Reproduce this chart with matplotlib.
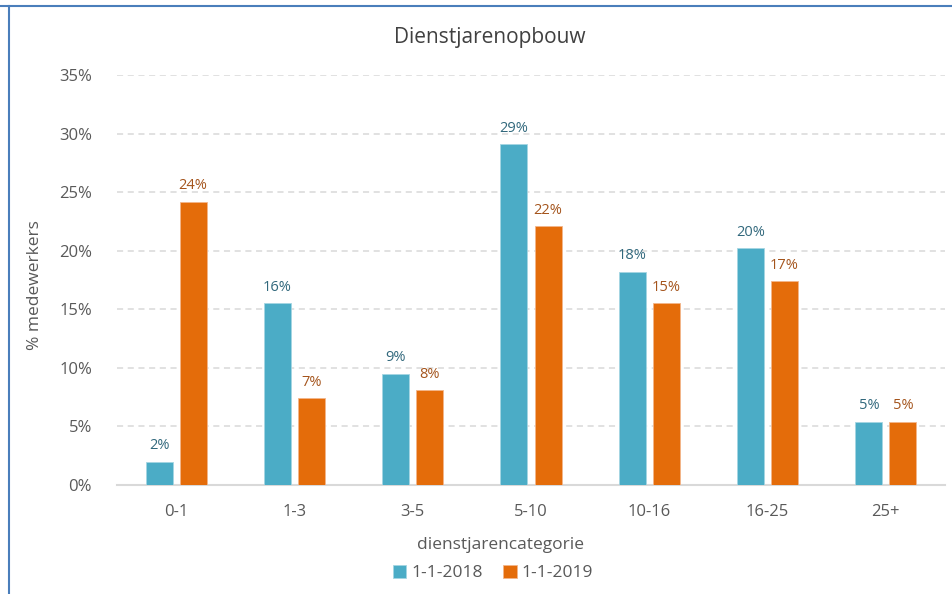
import numpy as np
import matplotlib
matplotlib.use("Agg")
import matplotlib.pyplot as plt
from matplotlib.lines import Line2D

plt.rcParams['font.family'] = ['Open Sans', 'DejaVu Sans']

categories = ["0-1", "1-3", "3-5", "5-10", "10-16", "16-25", "25+"]
series_names = ["1-1-2018", "1-1-2019"]
vals_2018 = [2.0, 15.5, 9.5, 29.1, 18.2, 20.2, 5.4]
vals_2019 = [24.2, 7.4, 8.1, 22.1, 15.5, 17.4, 5.4]
labels_2018 = ["2%", "16%", "9%", "29%", "18%", "20%", "5%"]
labels_2019 = ["24%", "7%", "8%", "22%", "15%", "17%", "5%"]

c_blue, c_orange = "#4bacc6", "#e46c0a"
lab_blue, lab_orange = "#31687c", "#a4541c"
grey = "#595959"

W, H = 952, 594
fig = plt.figure(figsize=(W / 100, H / 100), dpi=100)
ax = fig.add_axes([117 / W, 1 - 485 / H, 828 / W, 410 / H])

x = np.arange(len(categories))
w, gap = 0.228, 0.06
off = (w + gap) / 2
b1 = ax.bar(x - off, vals_2018, w, color=c_blue, edgecolor="#a5d5e2", linewidth=0.6, label=series_names[0], zorder=3)
b2 = ax.bar(x + off, vals_2019, w, color=c_orange, edgecolor="#f3b58a", linewidth=0.6, label=series_names[1], zorder=3)
ax.bar_label(b1, labels=labels_2018, padding=6, color=lab_blue, fontsize=10.5)
ax.bar_label(b2, labels=labels_2019, padding=6, color=lab_orange, fontsize=10.5)

ax.set_xlim(-0.5, len(categories) - 0.5)
ax.set_ylim(0, 35)
ax.set_yticks(np.arange(0, 36, 5))
ax.set_yticklabels([f"{v}%" for v in range(0, 36, 5)])
ax.set_xticks(x)
ax.set_xticklabels(categories)
ax.tick_params(axis="both", length=0, colors=grey, labelsize=12)
ax.tick_params(axis="y", pad=18)
ax.tick_params(axis="x", pad=14)
ax.grid(axis="y", color="#d9d9d9", linestyle=(0, (4, 3)), linewidth=1.1, zorder=0)
for s in ["top", "right", "left"]:
    ax.spines[s].set_visible(False)
ax.spines["bottom"].set_color("#d9d9d9")
ax.spines["bottom"].set_linewidth(1.5)

fig.text(490 / W, 1 - 37 / H, "Dienstjarenopbouw", fontsize=15, color="#404040", ha="center", va="center")
fig.text(500 / W, 1 - 545 / H, "dienstjarencategorie", fontsize=12.5, color=grey, ha="center", va="center")
fig.text(35 / W, 1 - 285 / H, "% medewerkers", fontsize=12.5, color=grey, ha="center", va="center", rotation=90)

fig.legend(handles=[b1, b2], loc="center", bbox_to_anchor=(493 / W, 1 - 573 / H), ncol=2, frameon=False,
           fontsize=12.5, labelcolor=grey, handlelength=0.75, handleheight=0.75,
           handletextpad=0.3, columnspacing=1.2)

# outer chart border (top and left visible in crop)
fig.add_artist(Line2D([0, 1], [1 - 6 / H, 1 - 6 / H], color="#4a7ebb", linewidth=1.5))
fig.add_artist(Line2D([9 / W, 9 / W], [0, 1 - 6 / H], color="#4a7ebb", linewidth=1.5))

fig.savefig("out.png", dpi=100)
